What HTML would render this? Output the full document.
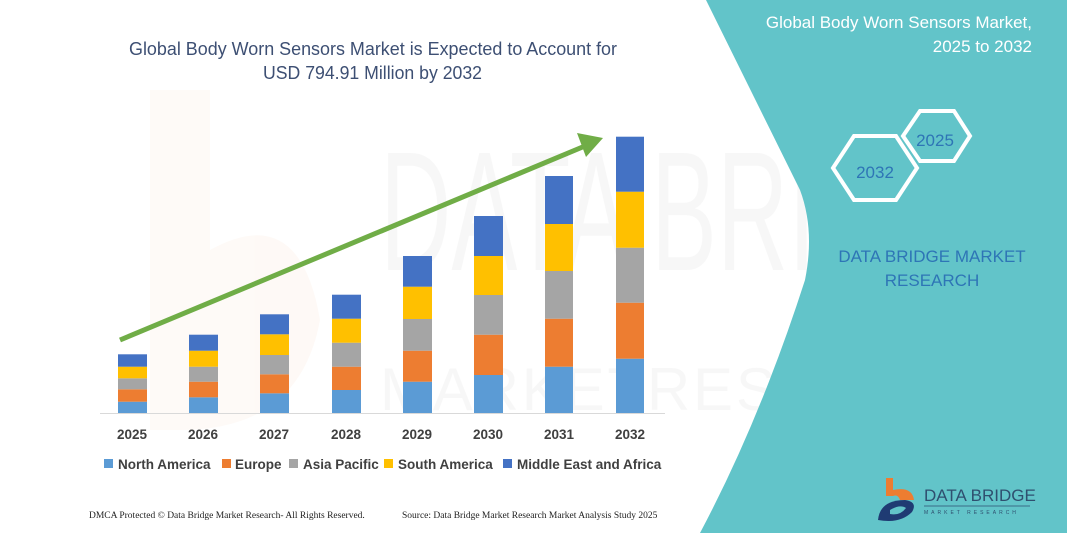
<!DOCTYPE html>
<html><head><meta charset="utf-8"><style>
html,body{margin:0;padding:0;background:#fff}
svg{display:block}
</style></head><body>
<svg width="1067" height="533" viewBox="0 0 1067 533" xmlns="http://www.w3.org/2000/svg" font-family="Liberation Sans, sans-serif">
<rect width="1067" height="533" fill="#fff"/>
<g opacity="0.045">
<path d="M150 90 L210 90 L210 250 Q300 200 320 320 Q300 430 180 430 L150 430 Z" fill="#f08a4b"/>
<text x="380" y="270" font-size="170" fill="#666" textLength="650" lengthAdjust="spacingAndGlyphs">DATA BRIDGE</text>
<text x="380" y="410" font-size="60" fill="#666" textLength="620" lengthAdjust="spacing">MARKETRESEARCH</text>
</g>
<path d="M706 0 L1067 0 L1067 533 L700 533 Q760 420 805 280 Q815 230 800 190 Z" fill="#62c4c9"/>
<text x="129" y="55" font-size="18" fill="#3d4f73" textLength="488" lengthAdjust="spacingAndGlyphs">Global Body Worn Sensors Market is Expected to Account for</text>
<text x="263" y="79" font-size="18" fill="#3d4f73" textLength="219" lengthAdjust="spacingAndGlyphs">USD 794.91 Million by 2032</text>
<line x1="100" y1="413.5" x2="665" y2="413.5" stroke="#d9d9d9" stroke-width="1"/>
<g>
<rect x="118" y="401.7" width="29" height="11.3" fill="#5b9bd5"/><rect x="118" y="389.3" width="29" height="12.4" fill="#ed7d31"/><rect x="118" y="378.3" width="29" height="11" fill="#a5a5a5"/><rect x="118" y="366.7" width="29" height="11.6" fill="#ffc000"/><rect x="118" y="354.3" width="29" height="12.4" fill="#4472c4"/>
<rect x="189" y="397.3" width="29" height="15.7" fill="#5b9bd5"/><rect x="189" y="381.7" width="29" height="15.6" fill="#ed7d31"/><rect x="189" y="366.7" width="29" height="15" fill="#a5a5a5"/><rect x="189" y="350.7" width="29" height="16" fill="#ffc000"/><rect x="189" y="334.7" width="29" height="16" fill="#4472c4"/>
<rect x="260" y="393.3" width="29" height="19.7" fill="#5b9bd5"/><rect x="260" y="374.3" width="29" height="19" fill="#ed7d31"/><rect x="260" y="355" width="29" height="19.3" fill="#a5a5a5"/><rect x="260" y="334.3" width="29" height="20.7" fill="#ffc000"/><rect x="260" y="314.3" width="29" height="20" fill="#4472c4"/>
<rect x="332" y="390" width="29" height="23" fill="#5b9bd5"/><rect x="332" y="366.7" width="29" height="23.3" fill="#ed7d31"/><rect x="332" y="342.7" width="29" height="24" fill="#a5a5a5"/><rect x="332" y="318.7" width="29" height="24" fill="#ffc000"/><rect x="332" y="294.7" width="29" height="24" fill="#4472c4"/>
<rect x="403" y="381.7" width="29" height="31.3" fill="#5b9bd5"/><rect x="403" y="350.7" width="29" height="31" fill="#ed7d31"/><rect x="403" y="319" width="29" height="31.7" fill="#a5a5a5"/><rect x="403" y="286.7" width="29" height="32.3" fill="#ffc000"/><rect x="403" y="256" width="29" height="30.7" fill="#4472c4"/>
<rect x="474" y="375" width="29" height="38" fill="#5b9bd5"/><rect x="474" y="334.7" width="29" height="40.3" fill="#ed7d31"/><rect x="474" y="295" width="29" height="39.7" fill="#a5a5a5"/><rect x="474" y="256" width="29" height="39" fill="#ffc000"/><rect x="474" y="216" width="29" height="40" fill="#4472c4"/>
<rect x="545" y="366.7" width="28" height="46.3" fill="#5b9bd5"/><rect x="545" y="318.7" width="28" height="48" fill="#ed7d31"/><rect x="545" y="271" width="28" height="47.7" fill="#a5a5a5"/><rect x="545" y="224" width="28" height="47" fill="#ffc000"/><rect x="545" y="176" width="28" height="48" fill="#4472c4"/>
<rect x="616" y="358.7" width="28" height="54.3" fill="#5b9bd5"/><rect x="616" y="302.7" width="28" height="56" fill="#ed7d31"/><rect x="616" y="247.7" width="28" height="55" fill="#a5a5a5"/><rect x="616" y="191.7" width="28" height="56" fill="#ffc000"/><rect x="616" y="136.7" width="28" height="55" fill="#4472c4"/>
</g>
<line x1="120" y1="340" x2="585" y2="146" stroke="#70ad47" stroke-width="5"/>
<polygon points="603,138 577,133 586,157" fill="#70ad47"/>
<g font-size="13.5" font-weight="bold" fill="#404040" text-anchor="middle">
<text x="132" y="439">2025</text><text x="203" y="439">2026</text><text x="274" y="439">2027</text><text x="346" y="439">2028</text><text x="417" y="439">2029</text><text x="488" y="439">2030</text><text x="559" y="439">2031</text><text x="630" y="439">2032</text>
</g>
<g font-size="13.5" font-weight="bold" fill="#404040">
<rect x="104" y="459" width="9" height="9" fill="#5b9bd5"/><text x="118" y="469">North America</text>
<rect x="222" y="459" width="9" height="9" fill="#ed7d31"/><text x="235" y="469">Europe</text>
<rect x="289" y="459" width="9" height="9" fill="#a5a5a5"/><text x="303" y="469">Asia Pacific</text>
<rect x="384" y="459" width="9" height="9" fill="#ffc000"/><text x="398" y="469">South America</text>
<rect x="503" y="459" width="9" height="9" fill="#4472c4"/><text x="517" y="469">Middle East and Africa</text>
</g>
<g font-family="Liberation Serif, serif" font-size="9.5" fill="#222">
<text x="89" y="518">DMCA Protected © Data Bridge Market Research-  All Rights Reserved.</text>
<text x="402" y="518">Source: Data Bridge Market Research  Market Analysis Study 2025</text>
</g>
<g font-size="17" fill="#fff" text-anchor="end">
<text x="1032" y="28">Global Body Worn Sensors Market,</text>
<text x="1032" y="52">2025 to 2032</text>
</g>
<polygon points="833,168 854,136 896,136 917,168 896,200 854,200" fill="none" stroke="#fff" stroke-width="4"/>
<polygon points="903,136 920,111 954,111 970,136 954,161 920,161" fill="none" stroke="#fff" stroke-width="4"/>
<text x="875" y="178" font-size="17" fill="#2e75b6" text-anchor="middle">2032</text>
<text x="935" y="146" font-size="17" fill="#2e75b6" text-anchor="middle">2025</text>
<g font-size="17" fill="#2e75b6" text-anchor="middle">
<text x="932" y="262">DATA BRIDGE MARKET</text>
<text x="932" y="286">RESEARCH</text>
</g>
<path d="M886 478 L893 478 L893 490 Q912 486 914 500 L900 500 Q898 494 893 496 L886 496 Z" fill="#ed7d31"/>
<path d="M878 520 Q880 500 905 500 Q918 502 912 512 Q900 524 878 520 Z" fill="#1f3b73"/>
<path d="M890 510 Q900 504 906 508 Q900 516 890 514 Z" fill="#62c4c9"/>
<text x="924" y="501" font-size="17" fill="#2f4f6f">DATA BRIDGE</text>
<line x1="924" y1="506" x2="1030" y2="506" stroke="#2f4f6f" stroke-width="0.7"/>
<text x="924" y="514" font-size="5" fill="#2f4f6f" letter-spacing="3">MARKET RESEARCH</text>
</svg>
</body></html>
